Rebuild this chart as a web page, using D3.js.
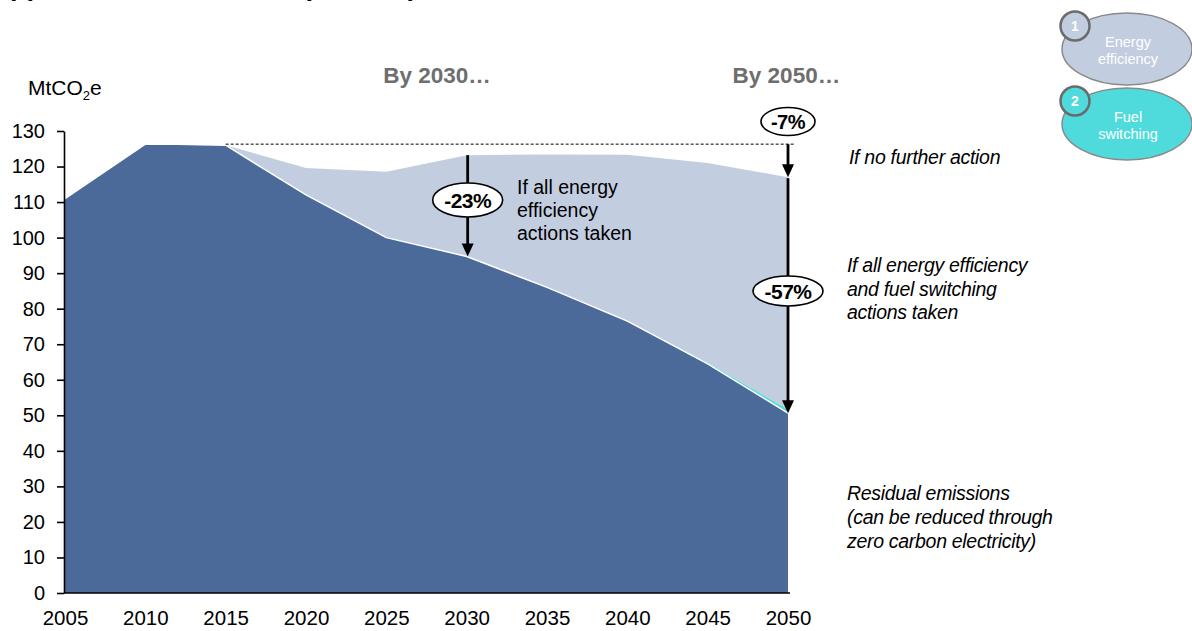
<!DOCTYPE html>
<html>
<head>
<meta charset="utf-8">
<script src="https://cdn.jsdelivr.net/npm/d3@7"></script>
<style>
  html, body { margin: 0; padding: 0; background: #fff; }
  svg { display: block; font-family: "Liberation Sans", Arial, sans-serif; }
</style>
</head>
<body>
<svg id="chart" width="1192" height="631"></svg>
<script>
// Emissions pathway, MtCO2e
const years = [2005, 2010, 2012, 2015, 2020, 2025, 2030, 2035, 2040, 2045, 2050];
const noFurtherAction = [111, 126.3, 126.3, 126, 119.6, 118.5, 123.2, 123.4, 123.3, 121, 117];
const residualEmissions = [111, 126.3, 126.3, 126, 112, 100, 94.7, 86, 76.5, 64.5, 50.6];
const fuelSwitching = [0, 0, 0, 0, 0, 0, 0, 0, 0, 0.3, 1.0];
const energyEfficiency = [0, 0, 0, 0, 7.6, 18.5, 28.5, 37.4, 46.8, 56.2, 65.4];
const xTicks = [2005, 2010, 2015, 2020, 2025, 2030, 2035, 2040, 2045, 2050];
const yTicks = [0, 10, 20, 30, 40, 50, 60, 70, 80, 90, 100, 110, 120, 130];
const baseLevel = 126.3;        // level held flat when no further action is taken
const labels2030 = { year: 2030, text: "-23%" };
const labels2050 = { year: 2050, first: "-7%", second: "-57%" };

const colors = { residual: "#4b6a99", fuel: "#4fdbdc", efficiency: "#c3cde0" };

const svg = d3.select("#chart");
const x = d3.scaleLinear().domain([2005, 2050]).range([65, 788]);
const y = d3.scaleLinear().domain([0, 130]).range([593, 131]);

const rows = years.map((yr, i) => ({
  year: yr,
  residual: residualEmissions[i],
  fuel: fuelSwitching[i],
  efficiency: energyEfficiency[i]
}));
const stack = d3.stack().keys(["residual", "fuel", "efficiency"]);
const layers = stack(rows);

const area = d3.area()
  .x(d => x(d.data.year))
  .y0(d => y(d[0]))
  .y1(d => y(d[1]));

// draw stacked areas, top layer first so the lower ones sit on it
svg.append("g").selectAll("path")
  .data(layers.slice().reverse())
  .join("path")
  .attr("d", area)
  .attr("fill", d => colors[d.key]);

// thin white edge along the top of the residual area
svg.append("path")
  .datum(rows)
  .attr("fill", "none")
  .attr("stroke", "#fff")
  .attr("stroke-width", 1.5)
  .attr("d", d3.line().x(d => x(d.year)).y(d => y(d.residual)));

// title (runs off the top of the page)
const title = svg.append("text")
  .attr("x", -11).attr("y", -5)
  .attr("font-size", 27).attr("font-weight", "bold").attr("fill", "#000");
title.append("tspan").text("Opportunities to reduce (MtCO");
title.append("tspan").attr("font-size", 17).attr("dy", 5).text("2");
title.append("tspan").attr("dy", -5).text("e)");

// y axis
const yAxis = svg.append("g")
  .attr("transform", `translate(${x(2005) - 1},0)`)
  .call(d3.axisLeft(y).tickValues(yTicks).tickSize(7).tickSizeOuter(0).tickPadding(12));
yAxis.selectAll("text").attr("font-size", 20).attr("fill", "#000")
  .attr("font-family", "Liberation Sans, Arial, sans-serif");
yAxis.selectAll("line, path").attr("stroke", "#000").attr("stroke-width", 1.6);

// x axis
const xAxis = svg.append("g")
  .attr("transform", `translate(0,${y(0)})`)
  .call(d3.axisBottom(x).tickValues(xTicks).tickFormat(d3.format("d")).tickSize(0).tickSizeOuter(0).tickPadding(17));
xAxis.select(".domain").attr("d", `M${x(2005) - 1},0H${x(2050) + 2}`)
  .attr("stroke", "#000").attr("stroke-width", 1.6);
xAxis.selectAll("text").attr("font-size", 20.5).attr("fill", "#000")
  .attr("font-family", "Liberation Sans, Arial, sans-serif");

// unit label
const unit = svg.append("text").attr("x", 28).attr("y", 95).attr("font-size", 21).attr("fill", "#000");
unit.append("tspan").text("MtCO");
unit.append("tspan").attr("font-size", 13).attr("dy", 5).text("2");
unit.append("tspan").attr("dy", -5).text("e");

// dashed reference line at the no-further-action level
svg.append("line")
  .attr("x1", x(2015)).attr("x2", x(2050) + 7)
  .attr("y1", y(baseLevel)).attr("y2", y(baseLevel))
  .attr("stroke", "#000").attr("stroke-width", 1).attr("stroke-dasharray", "3,2");

// period headings
svg.selectAll("text.period")
  .data([{ yr: 2028.15, t: "By 2030…" }, { yr: 2049.9, t: "By 2050…" }])
  .join("text")
  .attr("class", "period")
  .attr("x", d => x(d.yr)).attr("y", 83)
  .attr("text-anchor", "middle")
  .attr("font-size", 22.5).attr("font-weight", "bold").attr("fill", "#6e6e6e")
  .text(d => d.t);

// arrows
function arrow(xp, yStart, yTip) {
  const head = 13, half = 6;
  svg.append("line")
    .attr("x1", xp).attr("x2", xp)
    .attr("y1", yStart).attr("y2", yTip - head + 1)
    .attr("stroke", "#000").attr("stroke-width", 2.8);
  svg.append("path")
    .attr("d", `M${xp - half},${yTip - head}L${xp + half},${yTip - head}L${xp},${yTip}Z`)
    .attr("fill", "#000");
}
function pill(cx, cy, rx, ry, t, fs) {
  svg.append("ellipse").attr("cx", cx).attr("cy", cy).attr("rx", rx).attr("ry", ry)
    .attr("fill", "#fff").attr("stroke", "#000").attr("stroke-width", 1.6);
  svg.append("text").attr("x", cx).attr("y", cy).attr("dy", "0.36em")
    .attr("text-anchor", "middle").attr("font-size", fs).attr("font-weight", "bold")
    .attr("fill", "#000").attr("letter-spacing", -0.5).text(t);
}

const i30 = years.indexOf(labels2030.year);
const x30 = x(labels2030.year) + 1;
arrow(x30, y(noFurtherAction[i30]), y(residualEmissions[i30]));
pill(x30, 200, 35, 17, labels2030.text, 21);

const i50 = years.indexOf(labels2050.year);
const x50 = x(labels2050.year);
arrow(x50, y(baseLevel), y(noFurtherAction[i50]));
arrow(x50, y(noFurtherAction[i50]) + 1, y(residualEmissions[i50]));
pill(x50, 121.5, 27, 14, labels2050.first, 20);
pill(x50, 291, 35, 15, labels2050.second, 21);

// inline note for the 2030 step
svg.append("text").attr("font-size", 19.5).attr("fill", "#000")
  .selectAll("tspan")
  .data(["If all energy", "efficiency", "actions taken"])
  .join("tspan")
  .attr("x", 517).attr("y", (d, i) => 194 + i * 23)
  .text(d => d);

// scenario notes on the right
function note(lines, x0, y0, step) {
  svg.append("text").attr("font-size", 19.5).attr("font-style", "italic").attr("fill", "#000")
    .attr("letter-spacing", -0.3)
    .selectAll("tspan")
    .data(lines)
    .join("tspan")
    .attr("x", x0).attr("y", (d, i) => y0 + i * step)
    .text(d => d);
}
note(["If no further action"], 849, 164, 0);
note(["If all energy efficiency", "and fuel switching", "actions taken"], 847, 272, 23.5);
note(["Residual emissions", "(can be reduced through", "zero carbon electricity)"], 847, 500, 24);

// legend bubbles
const legend = [
  { n: "1", lines: ["Energy", "efficiency"], fill: colors.efficiency, cy: 49 },
  { n: "2", lines: ["Fuel", "switching"], fill: colors.fuel, cy: 124 }
];
legend.forEach(d => {
  svg.append("ellipse").attr("cx", 1127).attr("cy", d.cy).attr("rx", 65).attr("ry", 36)
    .attr("fill", d.fill).attr("stroke", "#8a8a8a").attr("stroke-width", 1.5);
  svg.append("text").attr("font-size", 14.5).attr("fill", "#fff").attr("text-anchor", "middle")
    .selectAll("tspan").data(d.lines).join("tspan")
    .attr("x", 1128).attr("y", (t, i) => d.cy - 2 + i * 17)
    .text(t => t);
  svg.append("circle").attr("cx", 1075).attr("cy", d.cy - 23).attr("r", 14.5)
    .attr("fill", d.fill).attr("stroke", "#6b6b6b").attr("stroke-width", 2.5);
  svg.append("text").attr("x", 1075).attr("y", d.cy - 23).attr("dy", "0.36em")
    .attr("text-anchor", "middle").attr("font-size", 14).attr("font-weight", "bold")
    .attr("fill", "#fff").text(d.n);
});
</script>
</body>
</html>
